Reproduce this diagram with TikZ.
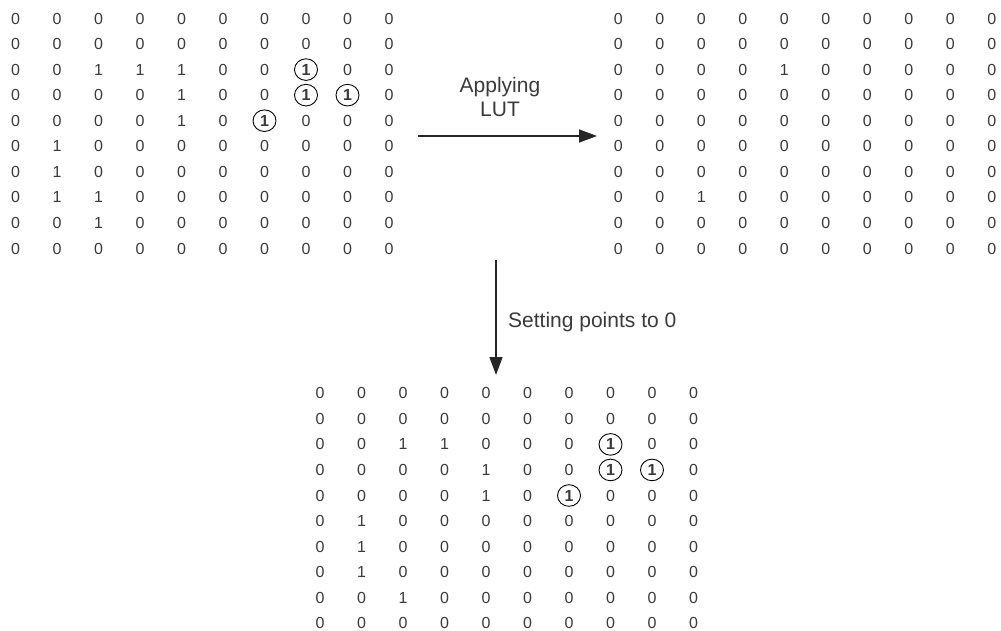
\documentclass[tikz,border=0pt]{standalone}
\usepackage{fontspec}
\setmainfont{Liberation Sans}
\usetikzlibrary{arrows.meta}
\definecolor{txt}{HTML}{3A3A3A}
\begin{document}
\begin{tikzpicture}[x=1pt,y=-1pt,
  digit/.style={inner sep=0pt,text depth=0pt,text=txt,font=\fontsize{16}{19}\selectfont},
  ring/.style={draw=black,line width=0.9pt},
  flow/.style={draw=black!85,line width=1.5pt,-{Triangle[length=18pt,width=13pt]}},
  lbl/.style={text=txt,font=\fontsize{21}{24}\selectfont,inner sep=0pt}]
\path[use as bounding box] (0,0) rectangle (1001,631);
% left matrix (input)
\foreach \row [count=\r] in {
  {0,0,0,0,0,0,0,0,0,0},
  {0,0,0,0,0,0,0,0,0,0},
  {0,0,1,1,1,0,0,\textbf{1},0,0},
  {0,0,0,0,1,0,0,\textbf{1},\textbf{1},0},
  {0,0,0,0,1,0,\textbf{1},0,0,0},
  {0,1,0,0,0,0,0,0,0,0},
  {0,1,0,0,0,0,0,0,0,0},
  {0,1,1,0,0,0,0,0,0,0},
  {0,0,1,0,0,0,0,0,0,0},
  {0,0,0,0,0,0,0,0,0,0}}{
  \foreach \v [count=\c] in \row {
    \node[digit] (L-\r-\c) at ({15.5+(\c-1)*41.5},{18.5+(\r-1)*25.55}) {\v};
  }
}
% right matrix (LUT result)
\foreach \row [count=\r] in {
  {0,0,0,0,0,0,0,0,0,0},
  {0,0,0,0,0,0,0,0,0,0},
  {0,0,0,0,1,0,0,0,0,0},
  {0,0,0,0,0,0,0,0,0,0},
  {0,0,0,0,0,0,0,0,0,0},
  {0,0,0,0,0,0,0,0,0,0},
  {0,0,0,0,0,0,0,0,0,0},
  {0,0,1,0,0,0,0,0,0,0},
  {0,0,0,0,0,0,0,0,0,0},
  {0,0,0,0,0,0,0,0,0,0}}{
  \foreach \v [count=\c] in \row {
    \node[digit] (R-\r-\c) at ({618.3+(\c-1)*41.5},{18.5+(\r-1)*25.55}) {\v};
  }
}
% bottom matrix (after setting points to 0)
\foreach \row [count=\r] in {
  {0,0,0,0,0,0,0,0,0,0},
  {0,0,0,0,0,0,0,0,0,0},
  {0,0,1,1,0,0,0,\textbf{1},0,0},
  {0,0,0,0,1,0,0,\textbf{1},\textbf{1},0},
  {0,0,0,0,1,0,\textbf{1},0,0,0},
  {0,1,0,0,0,0,0,0,0,0},
  {0,1,0,0,0,0,0,0,0,0},
  {0,1,0,0,0,0,0,0,0,0},
  {0,0,1,0,0,0,0,0,0,0},
  {0,0,0,0,0,0,0,0,0,0}}{
  \foreach \v [count=\c] in \row {
    \node[digit] (B-\r-\c) at ({320+(\c-1)*41.5},{393.3+(\r-1)*25.55}) {\v};
  }
}
% circled ones
\foreach \m in {L,B}{
  \foreach \p in {3-8,4-8,4-9,5-7}{
    \draw[ring] (\m-\p.center) ellipse[x radius=11.5, y radius=10.8];
  }
}
% arrows
\coordinate (h1) at (418,136);
\coordinate (h2) at (597,136);
\draw[flow] (h1) -- (h2);
\node[lbl,align=center] (lut) at (500,96.5) {Applying\\LUT};
\coordinate (v1) at (496,260);
\coordinate (v2) at (496,375);
\draw[flow] (v1) -- (v2);
\node[lbl,anchor=west,text depth=0pt] (setz) at (508,319.5) {Setting points to 0};
\end{tikzpicture}
\end{document}
